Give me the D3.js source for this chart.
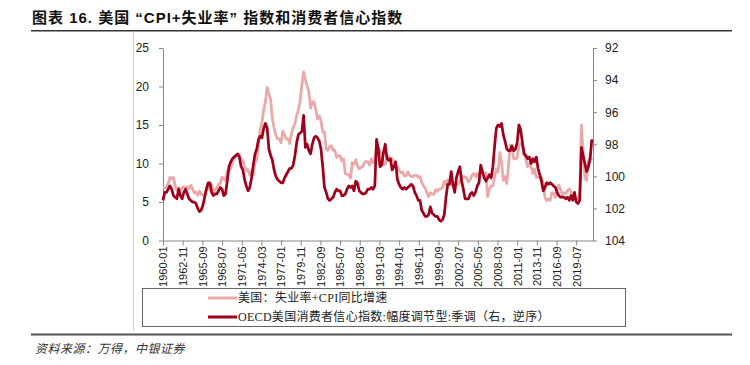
<!DOCTYPE html>
<html>
<head>
<meta charset="utf-8">
<title>CPI+失业率与消费者信心指数</title>
<script src="https://cdn.jsdelivr.net/npm/d3@7"></script>
<style>
  body { margin: 0; background: #fff; }
  svg { display: block; }
  .axis text { font-family: "Liberation Sans", Arial, sans-serif; fill: #222; }
  .axis path, .axis line { stroke: #888; }
</style>
</head>
<body>
<script>
// category axis labels, one every 34 months
var tickLabels = ["1960-01", "1962-11", "1965-09", "1968-07", "1971-05", "1974-03",
    "1977-01", "1979-11", "1982-09", "1985-07", "1988-05", "1991-03", "1994-01",
    "1996-11", "1999-09", "2002-07", "2005-05", "2008-03", "2011-01", "2013-11",
    "2016-09", "2019-07"];

// months since 1960-01 of each point (Jan / Apr / Jul / Oct, 1960 - 2021)
var periods = d3.range(0, 744, 3);

// 美国：失业率+CPI同比增速 (left axis)
var misery = [
    6.9, 6.9, 6.9, 7.4,      // 1960
    8.2, 8.0, 8.2, 7.1,
    6.5, 6.9, 6.5, 6.8,
    7.0, 6.7, 7.0, 6.7,
    7.2, 6.7, 6.2, 6.3,
    5.9, 6.4, 6.0, 5.9,      // 1965
    5.9, 6.7, 6.6, 7.3,
    7.2, 6.2, 6.6, 6.8,
    7.3, 7.4, 8.2, 8.0,
    7.8, 9.0, 9.0, 9.4,
    10.1, 10.7, 11.0, 11.1,  // 1970
    11.2, 10.1, 10.4, 9.6,
    9.1, 9.2, 8.5, 9.0,
    8.5, 10.1, 10.5, 12.4,
    14.5, 15.3, 17.0, 18.0,
    19.9, 19.0, 18.3, 15.8,  // 1975
    14.6, 13.7, 13.2, 13.2,
    12.7, 14.2, 13.7, 13.2,
    13.2, 12.6, 13.9, 14.7,
    15.2, 16.3, 17.0, 18.1,
    20.2, 21.9, 20.9, 20.1,  // 1980
    19.3, 17.2, 18.0, 18.0,
    17.0, 15.8, 16.2, 15.5,
    14.1, 14.1, 11.9, 11.7,
    12.2, 12.3, 11.7, 11.7,
    10.8, 11.0, 11.0, 10.3,  // 1985
    10.6, 8.7, 8.6, 8.5,
    8.1, 10.1, 9.9, 10.5,
    9.7, 9.3, 9.5, 9.6,
    10.1, 10.3, 10.2, 9.8,
    10.6, 10.1, 10.3, 12.2,  // 1990
    12.1, 11.6, 11.2, 9.9,
    9.9, 10.6, 10.9, 10.5,
    10.6, 10.3, 9.7, 9.6,
    9.1, 8.8, 8.9, 8.4,
    8.4, 8.9, 8.5, 8.3,      // 1995
    8.3, 8.5, 8.5, 8.2,
    8.3, 7.6, 7.1, 6.8,
    6.2, 5.7, 6.2, 6.0,
    6.0, 6.6, 6.4, 6.7,
    6.7, 6.9, 7.7, 7.3,      // 2000
    7.9, 7.7, 7.3, 7.4,
    6.8, 7.5, 7.3, 7.7,
    8.4, 8.2, 8.3, 8.0,
    7.6, 7.9, 8.5, 8.7,
    8.3, 8.7, 8.2, 9.3,      // 2005
    8.7, 8.2, 8.8, 5.7,
    6.7, 7.1, 7.1, 8.2,
    9.3, 8.9, 11.4, 10.2,
    7.8, 8.3, 7.4, 9.8,
    12.4, 12.1, 10.6, 10.6,  // 2010
    10.7, 12.3, 12.6, 12.3,
    11.2, 10.5, 9.6, 10.0,
    9.6, 8.7, 9.3, 8.2,
    8.2, 8.2, 8.2, 7.4,
    5.6, 5.2, 5.4, 5.2,      // 2015
    6.2, 6.2, 5.6, 6.5,
    7.2, 6.6, 6.0, 6.2,
    6.1, 6.5, 6.7, 6.3,
    5.6, 5.7, 5.5, 5.4,
    6.0, 15.0, 11.2, 8.1,    // 2020
    7.8, 10.3, 10.8, 10.4
];

// OECD美国消费者信心指数 (right axis, reversed)
var confidence = [
    101.5, 101.0, 101.0, 100.8,  // 1960
    100.6, 100.8, 101.2, 101.3,
    101.4, 100.8, 101.2, 101.4,
    101.0, 100.8, 101.1, 101.4,
    101.5, 101.6, 101.6, 101.7,
    102.0, 102.2, 102.1, 101.8,  // 1965
    101.3, 100.8, 100.4, 100.4,
    101.0, 101.2, 101.1, 101.1,
    100.9, 100.7, 100.8, 101.2,
    101.1, 100.3, 99.4, 99.1,
    98.9, 98.8, 98.7, 98.6,      // 1970
    98.8, 99.4, 99.6, 100.2,
    100.6, 100.9, 100.7, 100.1,
    99.3, 98.6, 98.3, 97.7,
    97.5, 97.6, 97.0, 96.7,
    97.0, 98.3, 98.7, 99.0,      // 1975
    99.6, 100.0, 100.2, 100.3,
    100.4, 100.4, 100.1, 99.9,
    99.7, 99.5, 99.5, 99.3,
    98.7, 97.9, 97.4, 97.3,
    97.2, 96.2, 98.2, 98.0,      // 1980
    98.4, 98.6, 98.0, 97.6,
    97.5, 97.6, 97.8, 98.3,
    99.4, 100.7, 101.0, 101.4,
    101.5, 101.4, 101.3, 101.0,
    100.8, 100.9, 100.9, 101.2,  // 1985
    101.2, 101.1, 100.8, 100.6,
    100.7, 100.6, 100.9, 100.3,
    100.4, 100.9, 101.0, 101.1,
    101.1, 101.0, 100.8, 100.8,
    100.7, 100.8, 100.6, 97.7,   // 1990
    98.3, 99.4, 99.3, 98.5,
    98.0, 98.9, 99.0, 98.9,
    99.6, 99.4, 99.1, 100.2,
    100.5, 100.7, 100.8, 100.7,
    100.8, 100.7, 100.6, 100.5,  // 1995
    100.6, 101.0, 101.2, 101.5,
    101.5, 102.1, 102.3, 102.5,
    102.5, 102.4, 101.9, 102.3,
    102.4, 102.5, 102.5, 102.7,
    102.8, 102.7, 102.4, 101.3,  // 2000
    100.5, 100.5, 99.7, 100.5,
    101.0, 100.1, 99.7, 99.4,
    100.3, 100.8, 101.4, 101.4,
    101.4, 101.1, 101.0, 101.2,
    101.0, 100.6, 100.4, 99.3,   // 2005
    99.7, 100.1, 100.3, 100.1,
    99.9, 100.1, 99.4, 98.1,
    97.0, 96.8, 96.9, 96.7,
    97.4, 97.8, 98.3, 98.4,
    98.4, 98.1, 98.4, 98.3,      // 2010
    97.9, 96.8, 97.1, 97.9,
    98.6, 98.7, 98.9, 98.8,
    99.2, 98.9, 99.1, 98.8,
    99.5, 99.9, 100.3, 100.9,
    100.7, 100.4, 100.5, 100.4,  // 2015
    100.5, 100.6, 100.7, 101.0,
    101.2, 101.3, 101.3, 101.3,
    101.4, 101.3, 101.5, 101.2,
    101.5, 101.0, 101.6, 101.7,
    101.5, 98.2, 98.7, 99.2,     // 2020
    99.7, 99.4, 98.9, 97.7
];

var leftTicks = [0, 5, 10, 15, 20, 25];
var rightTicks = [92, 94, 96, 98, 100, 102, 104];
var legendNames = ["美国：失业率+CPI同比增速", "OECD美国消费者信心指数:幅度调节型:季调（右，逆序）"];
var colors = ["#eaa8a8", "#a0001c"];

var W = 750, H = 365;
var plot = {left: 163, right: 593, top: 48, bottom: 240.5};

var svg = d3.select('body').append('svg')
    .attr('width', W)
    .attr('height', H);

// title and page rules
svg.append('text')
    .attr('x', 32)
    .attr('y', 23)
    .style('font-family', '"Liberation Sans", "Noto Sans CJK SC", sans-serif')
    .style('font-size', '15px')
    .style('font-weight', 'bold')
    .style('letter-spacing', '1px')
    .attr('fill', '#111')
    .text('图表 16. 美国 “CPI+失业率” 指数和消费者信心指数');

svg.append('line')
    .attr('x1', 31).attr('x2', 732)
    .attr('y1', 30.8).attr('y2', 30.8)
    .attr('stroke', '#333').attr('stroke-width', 1.4);

svg.append('line')
    .attr('x1', 133.5).attr('x2', 133.5)
    .attr('y1', 32).attr('y2', 331)
    .attr('stroke', '#d0d0d0').attr('stroke-width', 1);

svg.append('line')
    .attr('x1', 31).attr('x2', 732)
    .attr('y1', 334.5).attr('y2', 334.5)
    .attr('stroke', '#555').attr('stroke-width', 2);

svg.append('text')
    .attr('x', 35)
    .attr('y', 353)
    .style('font-family', '"Noto Sans CJK SC", sans-serif')
    .style('font-size', '12px')
    .style('font-style', 'italic')
    .style('letter-spacing', '0.5px')
    .attr('fill', '#333')
    .text('资料来源：万得，中银证券');

// scales
var x = d3.scaleLinear().domain([0, 743]).range([plot.left, plot.right]);
var yL = d3.scaleLinear().domain([0, 25]).range([plot.bottom, plot.top]);
var yR = d3.scaleLinear().domain([92, 104]).range([plot.top, plot.bottom]);

function monthOf(label) {
    var p = label.split('-');
    return (+p[0] - 1960) * 12 + (+p[1] - 1);
}

// axes
var gx = svg.append('g')
    .attr('class', 'axis')
    .attr('transform', 'translate(0,' + plot.bottom + ')')
    .call(d3.axisBottom(x)
        .tickValues(tickLabels.map(monthOf))
        .tickFormat(function(d, i) { return tickLabels[i]; })
        .tickSize(5)
        .tickSizeOuter(0));
gx.selectAll('text')
    .style('font-size', '11px')
    .attr('transform', 'rotate(-90)')
    .attr('text-anchor', 'end')
    .attr('x', -6)
    .attr('y', 0)
    .attr('dy', '0.35em');

svg.append('g')
    .attr('class', 'axis')
    .attr('transform', 'translate(' + plot.left + ',0)')
    .call(d3.axisLeft(yL).tickValues(leftTicks).tickSize(4).tickSizeOuter(0).tickPadding(10))
    .selectAll('text').style('font-size', '12px');

svg.append('g')
    .attr('class', 'axis')
    .attr('transform', 'translate(' + plot.right + ',0)')
    .call(d3.axisRight(yR).tickValues(rightTicks).tickSize(4).tickSizeOuter(0).tickPadding(8))
    .selectAll('text').style('font-size', '12px');

svg.selectAll('.axis .domain').attr('stroke', '#888');

// lines
var lineL = d3.line()
    .x(function(d, i) { return x(periods[i]); })
    .y(function(d) { return yL(d); });
var lineR = d3.line()
    .x(function(d, i) { return x(periods[i]); })
    .y(function(d) { return yR(d); });

svg.append('path')
    .datum(misery)
    .attr('d', lineL)
    .attr('fill', 'none')
    .attr('stroke', colors[0])
    .attr('stroke-width', 2.75)
    .attr('stroke-linejoin', 'round');

svg.append('path')
    .datum(confidence)
    .attr('d', lineR)
    .attr('fill', 'none')
    .attr('stroke', colors[1])
    .attr('stroke-width', 2.75)
    .attr('stroke-linejoin', 'round');

// legend
svg.append('rect')
    .attr('x', 142.5).attr('y', 288.5)
    .attr('width', 483).attr('height', 38)
    .attr('fill', 'none')
    .attr('stroke', '#666');

var leg = svg.selectAll('.leg')
    .data(legendNames)
    .enter()
    .append('g')
    .attr('class', 'leg')
    .attr('transform', function(d, i) { return 'translate(208,' + (298 + i * 19) + ')'; });
leg.append('line')
    .attr('x1', 0).attr('x2', 29)
    .attr('stroke', function(d, i) { return colors[i]; })
    .attr('stroke-width', 3);
leg.append('text')
    .attr('x', 30)
    .attr('dy', '0.35em')
    .style('font-family', '"Liberation Serif", "Noto Sans CJK SC", serif')
    .style('font-size', '12px')
    .style('letter-spacing', '0.3px')
    .attr('fill', '#222')
    .text(function(d) { return d; });
</script>
</body>
</html>
